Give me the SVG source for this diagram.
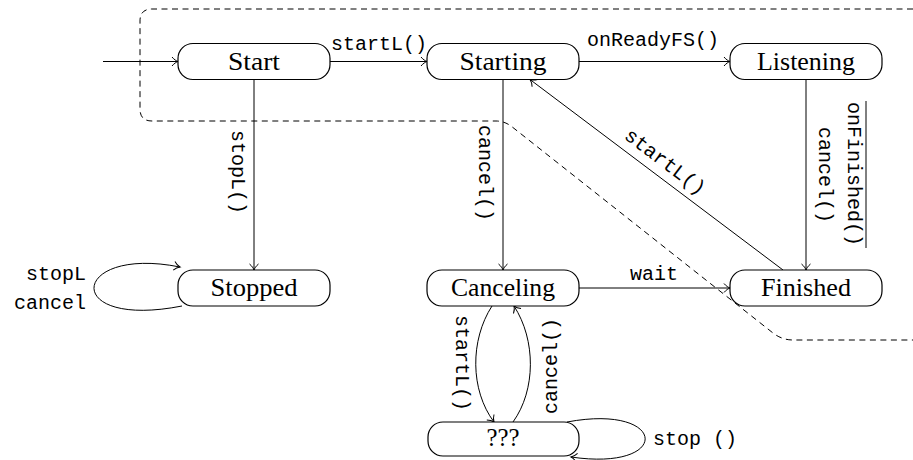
<svg xmlns="http://www.w3.org/2000/svg" width="913" height="460" viewBox="0 0 913 460">
<style>
.node rect{fill:#fff;stroke:#000;stroke-width:1.2}
.nt{font-family:"Liberation Serif","Times New Roman",serif;font-size:25px;text-anchor:middle;fill:#000}
.lbl{font-family:"Liberation Mono",monospace;font-size:20px;fill:#000}
.c{fill:none;stroke:#000;stroke-width:1;marker-end:url(#arr)}
.dash{fill:none;stroke:#000;stroke-width:1;stroke-dasharray:6 4.5}
</style>
<defs>
<marker id="arr" viewBox="-8 -6 10 12" refX="0" refY="0" markerWidth="10" markerHeight="12" orient="auto" markerUnits="userSpaceOnUse">
<path d="M-6,-4.5 C-4,-2 -1.5,-0.5 0,0 C-1.5,0.5 -4,2 -6,4.5" fill="none" stroke="#000" stroke-width="1"/>
</marker>
</defs>
<rect width="913" height="460" fill="#fff"/>
<path class="dash" d="M913,9 H152 Q140,9 140,21 V109 Q140,121 152,121 H496 Q504,121 511,126 L773,333 Q782,340 793,340 H913"/>
<g id="connectors">
<path class="c" d="M103,61.5 H178"/>
<path class="c" d="M330,61.5 H427"/>
<path class="c" d="M579,61.5 H730"/>
<path class="c" d="M254,79.5 V270"/>
<path class="c" d="M503,79.5 V270"/>
<path class="c" d="M806,79.5 V270"/>
<path class="c" d="M783,270 L530,79.5"/>
<path class="c" d="M579,288 H730"/>
<path class="c" d="M492,306 C470,340 470,390 494,422"/>
<path class="c" d="M513,422 C536,390 536,340 514,306"/>
<path class="c" d="M567,422 C668,403 673,472 571,457"/>
<path class="c" d="M182,306 C60,330 70,245 180,267"/>
<text class="lbl" x="331" y="50">startL()</text>
<text class="lbl" x="587" y="46">onReadyFS()</text>
<text class="lbl" text-anchor="middle" transform="translate(232,172) rotate(90)">stopL()</text>
<text class="lbl" text-anchor="middle" transform="translate(479,173) rotate(90)">cancel()</text>
<text class="lbl" text-anchor="middle" transform="translate(819,175) rotate(90)">cancel()</text>
<text class="lbl" text-anchor="middle" transform="translate(848,174) rotate(90)">onFinished()</text>
<path d="M866,101 V248" stroke="#000" stroke-width="1" fill="none"/>
<text class="lbl" text-anchor="middle" y="6" transform="translate(665,162) rotate(37.2)">startL()</text>
<text class="lbl" x="654" y="280" text-anchor="middle">wait</text>
<text class="lbl" text-anchor="middle" transform="translate(456,363) rotate(90)">startL()</text>
<text class="lbl" text-anchor="middle" transform="translate(557,366) rotate(-90)">cancel()</text>
<text class="lbl" x="653" y="445">stop ()</text>
<text class="lbl" x="86" y="280" text-anchor="end">stopL</text>
<text class="lbl" x="86" y="309" text-anchor="end">cancel</text>
</g>
<g id="start" class="node"><rect x="178" y="43.5" width="152" height="36" rx="15"/><text class="nt" x="254" y="69.5" textLength="52" lengthAdjust="spacingAndGlyphs">Start</text></g>
<g id="starting" class="node"><rect x="427" y="43.5" width="152" height="36" rx="15"/><text class="nt" x="503" y="69.5" textLength="87" lengthAdjust="spacingAndGlyphs">Starting</text></g>
<g id="listening" class="node"><rect x="730" y="43.5" width="152" height="36" rx="15"/><text class="nt" x="806" y="69.5" textLength="98" lengthAdjust="spacingAndGlyphs">Listening</text></g>
<g id="stopped" class="node"><rect x="178" y="270" width="152" height="36" rx="15"/><text class="nt" x="254" y="295.5" textLength="87" lengthAdjust="spacingAndGlyphs">Stopped</text></g>
<g id="canceling" class="node"><rect x="427" y="270" width="152" height="36" rx="15"/><text class="nt" x="503" y="295.5" textLength="104" lengthAdjust="spacingAndGlyphs">Canceling</text></g>
<g id="finished" class="node"><rect x="730" y="270" width="152" height="36" rx="15"/><text class="nt" x="806" y="295.5" textLength="90" lengthAdjust="spacingAndGlyphs">Finished</text></g>
<g id="unknown" class="node"><rect x="428" y="422" width="151" height="34" rx="15"/><text class="nt" x="503" y="446" textLength="33" lengthAdjust="spacingAndGlyphs">???</text></g>
</svg>
